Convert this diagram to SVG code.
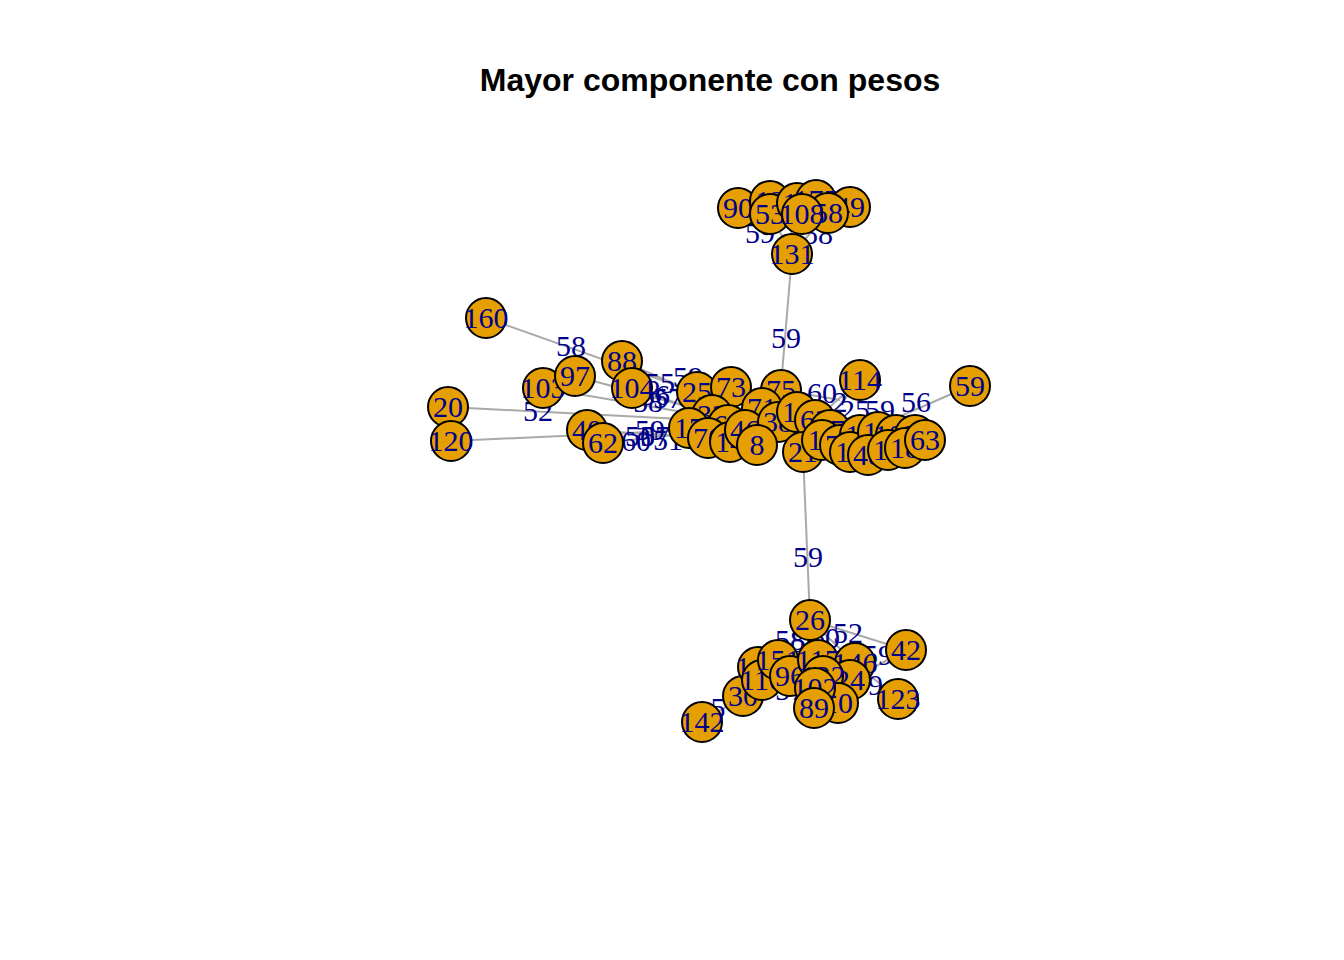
<svg xmlns="http://www.w3.org/2000/svg" width="1344" height="960" viewBox="0 0 1344 960">
<style>
.e{stroke:#A9A9A9;stroke-width:2;fill:none}
.el{font-family:"Liberation Serif",serif;font-size:30px;fill:#00008B;text-anchor:middle}
.n circle{fill:#E69F00;stroke:#000;stroke-width:2}
.n text{font-family:"Liberation Serif",serif;font-size:30px;fill:#00008B;text-anchor:middle}
.t{font-family:"Liberation Sans",Arial,sans-serif;font-size:32px;font-weight:bold;fill:#000;text-anchor:middle}
</style>
<rect width="1344" height="960" fill="#fff"/>
<text class="t" x="710" y="91">Mayor componente con pesos</text>
<g id="edges">
<line class="e" x1="792" y1="254" x2="778" y2="422"/>
<line class="e" x1="790" y1="206" x2="792" y2="254"/>
<line class="e" x1="770" y1="214" x2="792" y2="254"/>
<line class="e" x1="828" y1="213" x2="792" y2="254"/>
<line class="e" x1="486" y1="318" x2="695" y2="392"/>
<line class="e" x1="448" y1="407" x2="700" y2="420"/>
<line class="e" x1="451" y1="441" x2="690" y2="430"/>
<line class="e" x1="543" y1="388" x2="700" y2="415"/>
<line class="e" x1="575" y1="376" x2="700" y2="410"/>
<line class="e" x1="622" y1="361" x2="700" y2="395"/>
<line class="e" x1="632" y1="388" x2="712" y2="415"/>
<line class="e" x1="587" y1="430" x2="708" y2="438"/>
<line class="e" x1="603" y1="443" x2="700" y2="432"/>
<line class="e" x1="970" y1="386" x2="880" y2="425"/>
<line class="e" x1="860" y1="380" x2="822" y2="427"/>
<line class="e" x1="860" y1="380" x2="815" y2="420"/>
<line class="e" x1="781" y1="390" x2="840" y2="400"/>
<line class="e" x1="803" y1="452" x2="810" y2="620"/>
<line class="e" x1="810" y1="620" x2="906" y2="650"/>
<line class="e" x1="702" y1="722" x2="743" y2="696"/>
<line class="e" x1="810" y1="620" x2="855" y2="663"/>
<line class="e" x1="810" y1="620" x2="778" y2="660"/>
<line class="e" x1="855" y1="663" x2="898" y2="699"/>
<line class="e" x1="850" y1="680" x2="906" y2="650"/>
</g>
<g id="edge-labels">
<text class="el" x="786" y="348">59</text>
<text class="el" x="760" y="243">59</text>
<text class="el" x="818" y="244">58</text>
<text class="el" x="571" y="356">58</text>
<text class="el" x="538" y="421">52</text>
<text class="el" x="660" y="393">55</text>
<text class="el" x="688" y="387">59</text>
<text class="el" x="655" y="405">56</text>
<text class="el" x="668" y="408">57</text>
<text class="el" x="648" y="412">58</text>
<text class="el" x="640" y="446">50</text>
<text class="el" x="636" y="451">60</text>
<text class="el" x="655" y="446">57</text>
<text class="el" x="668" y="450">51</text>
<text class="el" x="650" y="440">59</text>
<text class="el" x="822" y="403">60</text>
<text class="el" x="840" y="412">2</text>
<text class="el" x="855" y="420">25</text>
<text class="el" x="880" y="420">59</text>
<text class="el" x="916" y="412">56</text>
<text class="el" x="808" y="567">59</text>
<text class="el" x="848" y="643">52</text>
<text class="el" x="790" y="650">58</text>
<text class="el" x="806" y="652">56</text>
<text class="el" x="825" y="648">60</text>
<text class="el" x="878" y="665">59</text>
<text class="el" x="868" y="695">49</text>
<text class="el" x="790" y="700">57</text>
<text class="el" x="718" y="718">5</text>
</g>
<g id="n90" class="n"><circle cx="738" cy="208" r="20"/><text x="738" y="218">90</text></g>
<g id="n13a" class="n"><circle cx="770" cy="201" r="20"/><text x="770" y="211">13</text></g>
<g id="n53" class="n"><circle cx="770" cy="214" r="20"/><text x="770" y="224">53</text></g>
<g id="n11a" class="n"><circle cx="797" cy="203" r="20"/><text x="797" y="213">11</text></g>
<g id="n175" class="n"><circle cx="816" cy="200" r="20"/><text x="816" y="210">175</text></g>
<g id="n49" class="n"><circle cx="850" cy="207" r="20"/><text x="850" y="217">49</text></g>
<g id="n58" class="n"><circle cx="828" cy="213" r="20"/><text x="828" y="223">58</text></g>
<g id="n108" class="n"><circle cx="802" cy="214" r="20"/><text x="802" y="224">108</text></g>
<g id="n131" class="n"><circle cx="792" cy="254" r="20"/><text x="792" y="264">131</text></g>
<g id="n160" class="n"><circle cx="486" cy="318" r="20"/><text x="486" y="328">160</text></g>
<g id="n88" class="n"><circle cx="622" cy="361" r="20"/><text x="622" y="371">88</text></g>
<g id="n103" class="n"><circle cx="543" cy="388" r="20"/><text x="543" y="398">103</text></g>
<g id="n97" class="n"><circle cx="575" cy="376" r="20"/><text x="575" y="386">97</text></g>
<g id="n104" class="n"><circle cx="632" cy="388" r="20"/><text x="632" y="398">104</text></g>
<g id="n20" class="n"><circle cx="448" cy="407" r="20"/><text x="448" y="417">20</text></g>
<g id="n120" class="n"><circle cx="451" cy="441" r="20"/><text x="451" y="451">120</text></g>
<g id="n40" class="n"><circle cx="587" cy="430" r="20"/><text x="587" y="440">40</text></g>
<g id="n62a" class="n"><circle cx="603" cy="443" r="20"/><text x="603" y="453">62</text></g>
<g id="n114" class="n"><circle cx="860" cy="380" r="20"/><text x="860" y="390">114</text></g>
<g id="n59" class="n"><circle cx="970" cy="386" r="20"/><text x="970" y="396">59</text></g>
<g id="n25" class="n"><circle cx="697" cy="392" r="20"/><text x="697" y="402">25</text></g>
<g id="n73" class="n"><circle cx="731" cy="387" r="20"/><text x="731" y="397">73</text></g>
<g id="n75" class="n"><circle cx="781" cy="390" r="20"/><text x="781" y="400">75</text></g>
<g id="n32" class="n"><circle cx="712" cy="415" r="20"/><text x="712" y="425">32</text></g>
<g id="n71" class="n"><circle cx="762" cy="408" r="20"/><text x="762" y="418">71</text></g>
<g id="n17" class="n"><circle cx="689" cy="428" r="20"/><text x="689" y="438">17</text></g>
<g id="n64" class="n"><circle cx="728" cy="425" r="20"/><text x="728" y="435">64</text></g>
<g id="n70" class="n"><circle cx="708" cy="438" r="20"/><text x="708" y="448">70</text></g>
<g id="n14" class="n"><circle cx="730" cy="442" r="20"/><text x="730" y="452">14</text></g>
<g id="n46" class="n"><circle cx="745" cy="430" r="20"/><text x="745" y="440">46</text></g>
<g id="n38" class="n"><circle cx="778" cy="422" r="20"/><text x="778" y="432">38</text></g>
<g id="n8" class="n"><circle cx="757" cy="445" r="20"/><text x="757" y="455">8</text></g>
<g id="n16" class="n"><circle cx="797" cy="412" r="20"/><text x="797" y="422">16</text></g>
<g id="n62" class="n"><circle cx="815" cy="420" r="20"/><text x="815" y="430">62</text></g>
<g id="n27" class="n"><circle cx="830" cy="430" r="20"/><text x="830" y="440">27</text></g>
<g id="n21" class="n"><circle cx="803" cy="452" r="20"/><text x="803" y="462">21</text></g>
<g id="n11" class="n"><circle cx="822" cy="440" r="20"/><text x="822" y="450">11</text></g>
<g id="n74" class="n"><circle cx="840" cy="445" r="20"/><text x="840" y="455">74</text></g>
<g id="n13" class="n"><circle cx="860" cy="435" r="20"/><text x="860" y="445">13</text></g>
<g id="n12" class="n"><circle cx="850" cy="452" r="20"/><text x="850" y="462">12</text></g>
<g id="n19" class="n"><circle cx="878" cy="432" r="20"/><text x="878" y="442">19</text></g>
<g id="n48" class="n"><circle cx="868" cy="455" r="20"/><text x="868" y="465">48</text></g>
<g id="n109" class="n"><circle cx="896" cy="435" r="20"/><text x="896" y="445">109</text></g>
<g id="n10a" class="n"><circle cx="888" cy="450" r="20"/><text x="888" y="460">10</text></g>
<g id="n65" class="n"><circle cx="915" cy="435" r="20"/><text x="915" y="445">65</text></g>
<g id="n18" class="n"><circle cx="905" cy="448" r="20"/><text x="905" y="458">18</text></g>
<g id="n63" class="n"><circle cx="925" cy="440" r="20"/><text x="925" y="450">63</text></g>
<g id="n26" class="n"><circle cx="810" cy="620" r="20"/><text x="810" y="630">26</text></g>
<g id="n42" class="n"><circle cx="906" cy="650" r="20"/><text x="906" y="660">42</text></g>
<g id="n123" class="n"><circle cx="898" cy="699" r="20"/><text x="898" y="709">123</text></g>
<g id="n142" class="n"><circle cx="702" cy="722" r="20"/><text x="702" y="732">142</text></g>
<g id="n30" class="n"><circle cx="743" cy="696" r="20"/><text x="743" y="706">30</text></g>
<g id="n149" class="n"><circle cx="758" cy="667" r="20"/><text x="758" y="677">149</text></g>
<g id="n110" class="n"><circle cx="762" cy="680" r="20"/><text x="762" y="690">110</text></g>
<g id="n151" class="n"><circle cx="778" cy="660" r="20"/><text x="778" y="670">151</text></g>
<g id="n96" class="n"><circle cx="790" cy="676" r="20"/><text x="790" y="686">96</text></g>
<g id="n117" class="n"><circle cx="818" cy="660" r="20"/><text x="818" y="670">117</text></g>
<g id="n146" class="n"><circle cx="855" cy="663" r="20"/><text x="855" y="673">146</text></g>
<g id="n24" class="n"><circle cx="850" cy="680" r="20"/><text x="850" y="690">24</text></g>
<g id="n122" class="n"><circle cx="823" cy="676" r="20"/><text x="823" y="686">122</text></g>
<g id="n10" class="n"><circle cx="838" cy="703" r="20"/><text x="838" y="713">10</text></g>
<g id="n102" class="n"><circle cx="815" cy="688" r="20"/><text x="815" y="698">102</text></g>
<g id="n89" class="n"><circle cx="814" cy="708" r="20"/><text x="814" y="718">89</text></g>
</svg>
